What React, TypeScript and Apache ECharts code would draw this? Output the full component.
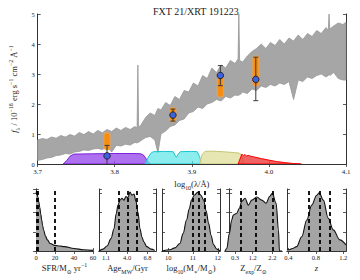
import React, { useEffect, useRef } from "react";
import * as echarts from "echarts";

const TITLE = "FXT 21/XRT 191223";
const FONT = "'Liberation Serif', 'DejaVu Serif', serif";

// Model spectrum band (log10 wavelength, upper / lower flux)
const BAND_X = [3.700, 3.706, 3.712, 3.718, 3.724, 3.730, 3.736, 3.742, 3.748, 3.754, 3.760, 3.766, 3.772, 3.778, 3.784, 3.790, 3.796, 3.802, 3.808, 3.814, 3.820, 3.826, 3.829, 3.830, 3.831, 3.834, 3.840, 3.846, 3.852, 3.856, 3.860, 3.866, 3.872, 3.878, 3.884, 3.890, 3.896, 3.902, 3.908, 3.914, 3.920, 3.926, 3.932, 3.938, 3.944, 3.950, 3.956, 3.960, 3.961, 3.962, 3.966, 3.972, 3.978, 3.984, 3.990, 3.996, 4.002, 4.008, 4.014, 4.020, 4.026, 4.032, 4.038, 4.044, 4.050, 4.056, 4.062, 4.068, 4.074, 4.077, 4.078, 4.079, 4.084, 4.090, 4.096, 4.100];
const BAND_HI = [0.80, 0.85, 0.82, 0.90, 0.86, 0.95, 0.90, 0.98, 0.93, 1.05, 0.98, 1.08, 1.00, 1.12, 1.04, 1.15, 1.08, 1.20, 1.12, 1.22, 1.15, 1.25, 1.20, 3.30, 1.22, 1.30, 1.55, 1.70, 1.62, 1.85, 1.80, 2.05, 1.95, 2.25, 2.15, 2.45, 2.40, 2.70, 2.60, 2.95, 2.85, 3.20, 3.05, 3.30, 3.20, 3.45, 3.35, 3.50, 5.00, 3.45, 3.40, 3.60, 3.75, 3.85, 4.00, 3.85, 4.05, 3.95, 4.15, 4.00, 4.20, 4.10, 4.30, 4.15, 4.35, 4.25, 4.45, 4.35, 4.55, 4.45, 5.00, 4.50, 4.60, 4.70, 4.65, 4.72];
const BAND_LO = [0.12, 0.15, 0.20, 0.22, 0.28, 0.30, 0.35, 0.33, 0.40, 0.42, 0.47, 0.45, 0.50, 0.52, 0.48, 0.58, 0.40, 0.62, 0.60, 0.66, 0.63, 0.72, 0.70, 0.74, 0.72, 0.78, 0.88, 0.92, 0.80, 0.37, 1.00, 1.10, 1.25, 1.30, 1.45, 1.50, 1.70, 1.75, 1.90, 1.85, 2.00, 2.05, 2.15, 2.10, 2.25, 2.20, 2.30, 2.28, 2.32, 2.30, 2.40, 2.35, 2.50, 2.45, 2.60, 2.55, 2.65, 2.60, 2.70, 2.65, 2.75, 2.15, 2.80, 2.75, 2.90, 2.85, 2.95, 3.00, 2.90, 2.95, 3.00, 2.95, 3.05, 2.85, 2.80, 2.80];

// Observed photometry
const PHOT_X = [3.790, 3.8755, 3.937, 3.983];
const PHOT_Y = [0.27, 1.63, 2.95, 2.82];
const PHOT_ERR_LO = [-0.1, 1.43, 2.61, 2.11];
const PHOT_ERR_HI = [0.62, 1.83, 3.28, 3.56];
// Model photometry range
const MODEL_LO = [0.47, 1.41, 2.23, 2.6];
const MODEL_HI = [1.04, 1.88, 2.9, 3.6];

// Filter curves
const FILTER_PURPLE_X = [3.733, 3.738, 3.742, 3.747, 3.770, 3.800, 3.825, 3.834, 3.838, 3.842, 3.846];
const FILTER_PURPLE_Y = [0, 0.12, 0.26, 0.33, 0.34, 0.35, 0.35, 0.34, 0.28, 0.12, 0];
const FILTER_CYAN_X = [3.839, 3.843, 3.847, 3.850, 3.865, 3.876, 3.878, 3.880, 3.882, 3.885, 3.900, 3.907, 3.910, 3.913];
const FILTER_CYAN_Y = [0, 0.2, 0.36, 0.41, 0.42, 0.41, 0.3, 0.22, 0.32, 0.41, 0.42, 0.41, 0.25, 0];
const FILTER_YELLOW_X = [3.910, 3.913, 3.917, 3.925, 3.940, 3.955, 3.962, 3.965, 3.968];
const FILTER_YELLOW_Y = [0, 0.3, 0.42, 0.43, 0.41, 0.38, 0.36, 0.25, 0];
const FILTER_RED_X = [3.960, 3.963, 3.965, 3.967, 3.969, 3.971, 3.973, 3.976, 3.980, 3.990, 4.000, 4.010, 4.020, 4.030, 4.042];
const FILTER_RED_Y = [0, 0.2, 0.33, 0.27, 0.32, 0.26, 0.29, 0.26, 0.24, 0.18, 0.13, 0.08, 0.05, 0.02, 0];

// Posterior panels
const SFR_X = [0, 0.5, 1, 2, 3, 4, 5, 6, 7, 8, 10, 12, 15, 20, 25, 30, 40, 50, 60];
const SFR_Y = [0.94, 0.96, 0.95, 0.87, 0.79, 0.70, 0.60, 0.50, 0.41, 0.34, 0.24, 0.18, 0.12, 0.09, 0.08, 0.07, 0.04, 0.02, 0.01];
const SFR_PCT = [0.6, 1.8, 20];
const SFR_TICKS = [0, 20, 40, 60];

const AGE_X = [0.14, 0.69, 1.24, 1.79, 2.2, 2.5, 2.75, 3.02, 3.3, 3.57, 3.85, 4.12, 4.4, 4.67, 4.95, 5.22, 5.5, 5.77, 6.05, 6.3, 6.7, 7.3, 7.8];
const AGE_Y = [0, 0.03, 0.08, 0.2, 0.36, 0.6, 0.74, 0.82, 0.85, 0.82, 0.88, 0.86, 0.95, 0.9, 0.92, 0.8, 0.62, 0.36, 0.22, 0.15, 0.07, 0.03, 0.01];
const AGE_PCT = [2.9, 4.15, 5.3];
const AGE_TICKS = [1.1, 4.0, 6.8];

const MASS_X = [9.75, 10.07, 10.27, 10.47, 10.6, 10.74, 10.85, 10.94, 11.05, 11.2, 11.32, 11.43, 11.53, 11.63, 11.73, 11.83, 11.96, 12.09];
const MASS_Y = [0, 0.02, 0.05, 0.12, 0.28, 0.5, 0.68, 0.82, 0.9, 0.95, 0.9, 0.82, 0.65, 0.45, 0.25, 0.1, 0.03, 0];
const MASS_PCT = [10.99, 11.23, 11.47];
const MASS_TICKS = [10, 11, 12];

const Z_X = [-0.21, -0.12, 0.01, 0.13, 0.21, 0.39, 0.52, 0.64, 0.81, 0.98, 1.15, 1.41, 1.66, 1.88, 2.06, 2.2, 2.39, 2.51, 2.56, 2.69];
const Z_Y = [0, 0.04, 0.28, 0.5, 0.58, 0.61, 0.69, 0.8, 0.85, 0.74, 0.82, 0.87, 0.82, 0.77, 0.88, 0.93, 0.77, 0.34, 0, 0];
const Z_PCT = [0.61, 1.37, 2.2];
const Z_TICKS = [0.3, 1.2, 2.2];

const ZR_X = [0.38, 0.4, 0.46, 0.52, 0.595, 0.668, 0.74, 0.813, 0.85, 0.91, 0.98, 1.055, 1.15, 1.24];
const ZR_Y = [0.02, 0.02, 0.04, 0.07, 0.23, 0.5, 0.74, 0.9, 0.94, 0.82, 0.53, 0.34, 0.18, 0.1];
const ZR_PCT = [0.705, 0.86, 0.996];
const ZR_TICKS = [0.4, 0.8, 1.2];

const richStyles = (size: number) => {
  const sub = size * 0.7;
  return {
    n: { fontFamily: FONT, fontSize: size, lineHeight: size + 4, verticalAlign: "middle", color: "#222" },
    i: { fontFamily: FONT, fontSize: size, lineHeight: size + 4, verticalAlign: "middle", color: "#222", fontStyle: "italic" },
    sub: { fontFamily: FONT, fontSize: sub, lineHeight: sub + 1, verticalAlign: "bottom", color: "#222" },
    sup: { fontFamily: FONT, fontSize: sub, lineHeight: sub + 1, verticalAlign: "top", color: "#222" },
  };
};

const AXIS_LINE = { show: true, lineStyle: { color: "#333", width: 1 } };
const TICK_IN = { show: true, inside: true, length: 3, lineStyle: { color: "#333", width: 0.8 } };

function buildOption() {
  const filters = [
    { x: FILTER_PURPLE_X, y: FILTER_PURPLE_Y, fill: "rgba(155,80,235,0.82)", stroke: "#7a22dd" },
    { x: FILTER_CYAN_X, y: FILTER_CYAN_Y, fill: "rgba(90,230,230,0.7)", stroke: "#19c6cf" },
    { x: FILTER_YELLOW_X, y: FILTER_YELLOW_Y, fill: "rgba(226,226,165,0.85)", stroke: "#c6c673" },
    { x: FILTER_RED_X, y: FILTER_RED_Y, fill: "rgba(238,70,70,0.85)", stroke: "#ff0000" },
  ];

  const panels = [
    { xs: SFR_X, ys: SFR_Y, pct: SFR_PCT, ticks: SFR_TICKS, min: 0, max: 60, dec: 0, left: 36, width: 57,
      name: "{n|SFR/M}{sub|⊙}{n| yr}{sup|−1}" },
    { xs: AGE_X, ys: AGE_Y, pct: AGE_PCT, ticks: AGE_TICKS, min: 0.14, max: 7.97, dec: 1, left: 99, width: 57,
      name: "{n|Age}{sub|MW}{n|/Gyr}" },
    { xs: MASS_X, ys: MASS_Y, pct: MASS_PCT, ticks: MASS_TICKS, min: 9.75, max: 12.09, dec: 0, left: 162, width: 58,
      name: "{n|log}{sub|10}{n|(M}{sub|∗}{n|/M}{sub|⊙}{n|)}" },
    { xs: Z_X, ys: Z_Y, pct: Z_PCT, ticks: Z_TICKS, min: -0.21, max: 2.69, dec: 1, left: 225, width: 57,
      name: "{n|Z}{sub|exp}{n|/Z}{sub|⊙}" },
    { xs: ZR_X, ys: ZR_Y, pct: ZR_PCT, ticks: ZR_TICKS, min: 0.38, max: 1.24, dec: 1, left: 287, width: 59,
      name: "{i|z}" },
  ];

  const grid: any[] = [{ left: 36, top: 14, width: 310, height: 150 }];
  panels.forEach((p) => grid.push({ left: p.left, top: 189, width: p.width, height: 62 }));

  const xAxis: any[] = [
    {
      gridIndex: 0, type: "value", position: "bottom", min: 3.7, max: 4.1, interval: 0.1,
      axisLine: AXIS_LINE, axisTick: TICK_IN, splitLine: { show: false },
      axisLabel: { fontFamily: FONT, fontSize: 7, color: "#222", margin: 4, formatter: (v: number) => v.toFixed(1) },
      name: "{n|log}{sub|10}{n|(λ/Å)}", nameLocation: "middle", nameGap: 7,
      nameTextStyle: { rich: richStyles(8.5) },
    },
    {
      gridIndex: 0, type: "value", position: "top", min: 3.7, max: 4.1, interval: 0.1,
      axisLine: AXIS_LINE, axisTick: TICK_IN, splitLine: { show: false }, axisLabel: { show: false },
    },
  ];
  const yAxis: any[] = [
    {
      gridIndex: 0, type: "value", position: "left", min: 0, max: 5, interval: 1,
      axisLine: AXIS_LINE, axisTick: TICK_IN, splitLine: { show: false },
      axisLabel: { fontFamily: FONT, fontSize: 6.5, color: "#222", margin: 3 },
      name: "{i|f}{sub|λ}{n| / 10}{sup|−18}{n| erg s}{sup|−1}{n| cm}{sup|−2}{n| Å}{sup|−1}",
      nameLocation: "middle", nameRotate: 90, nameGap: 9,
      nameTextStyle: { rich: richStyles(8.5) },
    },
    {
      gridIndex: 0, type: "value", position: "right", min: 0, max: 5, interval: 1,
      axisLine: AXIS_LINE, axisTick: TICK_IN, splitLine: { show: false }, axisLabel: { show: false },
    },
  ];

  panels.forEach((p, k) => {
    const g = k + 1;
    xAxis.push({
      gridIndex: g, type: "value", position: "bottom", min: p.min, max: p.max,
      axisLine: AXIS_LINE,
      axisTick: { ...TICK_IN, customValues: p.ticks },
      splitLine: { show: false },
      axisLabel: {
        fontFamily: FONT, fontSize: 6.5, color: "#222", margin: 3, customValues: p.ticks,
        showMinLabel: true, showMaxLabel: true, hideOverlap: false,
        formatter: (v: number) => v.toFixed(p.dec),
      },
      name: p.name, nameLocation: "middle", nameGap: 11,
      nameTextStyle: { rich: richStyles(8.5) },
    });
    xAxis.push({
      gridIndex: g, type: "value", position: "top", min: p.min, max: p.max,
      axisLine: AXIS_LINE, axisTick: { ...TICK_IN, customValues: p.ticks },
      splitLine: { show: false }, axisLabel: { show: false },
    });
    yAxis.push({
      gridIndex: g, type: "value", position: "left", min: 0, max: 1, interval: 0.31,
      axisLine: AXIS_LINE, axisTick: TICK_IN, splitLine: { show: false }, axisLabel: { show: false },
    });
    yAxis.push({
      gridIndex: g, type: "value", position: "right", min: 0, max: 1, interval: 0.31,
      axisLine: AXIS_LINE, axisTick: TICK_IN, splitLine: { show: false }, axisLabel: { show: false },
    });
  });

  const series: any[] = [];

  series.push({
    type: "custom", xAxisIndex: 0, yAxisIndex: 0, silent: true, clip: true, z: 1,
    data: [[3.9, 2]],
    renderItem: (_params: any, api: any) => {
      const upper = BAND_X.map((x, i) => api.coord([x, BAND_HI[i]]));
      const lower = BAND_X.map((x, i) => api.coord([x, BAND_LO[i]])).reverse();
      return {
        type: "polygon",
        shape: { points: upper.concat(lower) },
        style: { fill: "#a6a6a6", stroke: "#979797", lineWidth: 0.8 },
      };
    },
  });

  series.push({
    type: "custom", xAxisIndex: 0, yAxisIndex: 0, silent: true, clip: true, z: 2,
    data: filters.map((f) => [f.x[Math.floor(f.x.length / 2)], 0.2]),
    renderItem: (params: any, api: any) => {
      const f = filters[params.dataIndex];
      const pts = f.x.map((x, i) => api.coord([x, f.y[i]]));
      return {
        type: "polygon",
        shape: { points: pts },
        style: { fill: f.fill, stroke: f.stroke, lineWidth: 1 },
      };
    },
  });

  series.push({
    type: "custom", xAxisIndex: 0, yAxisIndex: 0, silent: true, clip: true, z: 3,
    data: PHOT_X.map((x, i) => [x, MODEL_LO[i], MODEL_HI[i]]),
    renderItem: (_params: any, api: any) => {
      const a = api.coord([api.value(0), api.value(2)]);
      const b = api.coord([api.value(0), api.value(1)]);
      return {
        type: "rect",
        shape: { x: a[0] - 3, y: a[1], width: 6, height: b[1] - a[1], r: 3 },
        style: { fill: "rgba(255,138,0,0.9)", stroke: "rgba(255,165,60,0.5)", lineWidth: 1.5 },
      };
    },
  });

  series.push({
    type: "custom", xAxisIndex: 0, yAxisIndex: 0, silent: true, clip: true, z: 4,
    data: PHOT_X.map((x, i) => [x, PHOT_ERR_LO[i], PHOT_ERR_HI[i]]),
    renderItem: (_params: any, api: any) => {
      const a = api.coord([api.value(0), api.value(2)]);
      const b = api.coord([api.value(0), api.value(1)]);
      const w = 2.5;
      const st = { stroke: "#3a3a3a", lineWidth: 1 };
      return {
        type: "group",
        children: [
          { type: "line", shape: { x1: a[0], y1: a[1], x2: b[0], y2: b[1] }, style: st },
          { type: "line", shape: { x1: a[0] - w, y1: a[1], x2: a[0] + w, y2: a[1] }, style: st },
          { type: "line", shape: { x1: b[0] - w, y1: b[1], x2: b[0] + w, y2: b[1] }, style: st },
        ],
      };
    },
  });

  series.push({
    type: "scatter", xAxisIndex: 0, yAxisIndex: 0, silent: true, z: 5,
    symbol: "circle", symbolSize: 6.5,
    itemStyle: { color: "#3d62dc", borderColor: "#111", borderWidth: 0.8, opacity: 1 },
    data: PHOT_X.map((x, i) => [x, PHOT_Y[i]]),
  });

  panels.forEach((p, k) => {
    series.push({
      type: "line", xAxisIndex: 2 + 2 * k, yAxisIndex: 2 + 2 * k, silent: true,
      showSymbol: false, symbol: "none", smooth: 0.35, smoothMonotone: "x",
      lineStyle: { color: "#111", width: 1.1 },
      areaStyle: { color: "#a4a4a4", opacity: 1 },
      data: p.xs.map((x, i) => [x, p.ys[i]]),
      markLine: {
        silent: true, symbol: ["none", "none"], animation: false,
        label: { show: false },
        lineStyle: { color: "#000", width: 1.8, type: [4, 3] },
        data: p.pct.map((v) => ({ xAxis: v })),
      },
    });
  });

  return {
    animation: false,
    backgroundColor: "#ffffff",
    title: {
      text: TITLE, left: 148, top: 1,
      textStyle: { fontFamily: FONT, fontSize: 10, fontWeight: "normal", color: "#222" },
    },
    grid, xAxis, yAxis, series,
  };
}

export default function App() {
  const ref = useRef<HTMLDivElement>(null);
  useEffect(() => {
    if (!ref.current) return;
    const chart = echarts.init(ref.current, null, { renderer: "svg" });
    chart.setOption(buildOption() as any);
    return () => chart.dispose();
  }, []);
  return (
    <div
      ref={ref}
      style={{ position: "fixed", left: 0, top: 0, width: 360, height: 280, background: "#fff" }}
    />
  );
}
